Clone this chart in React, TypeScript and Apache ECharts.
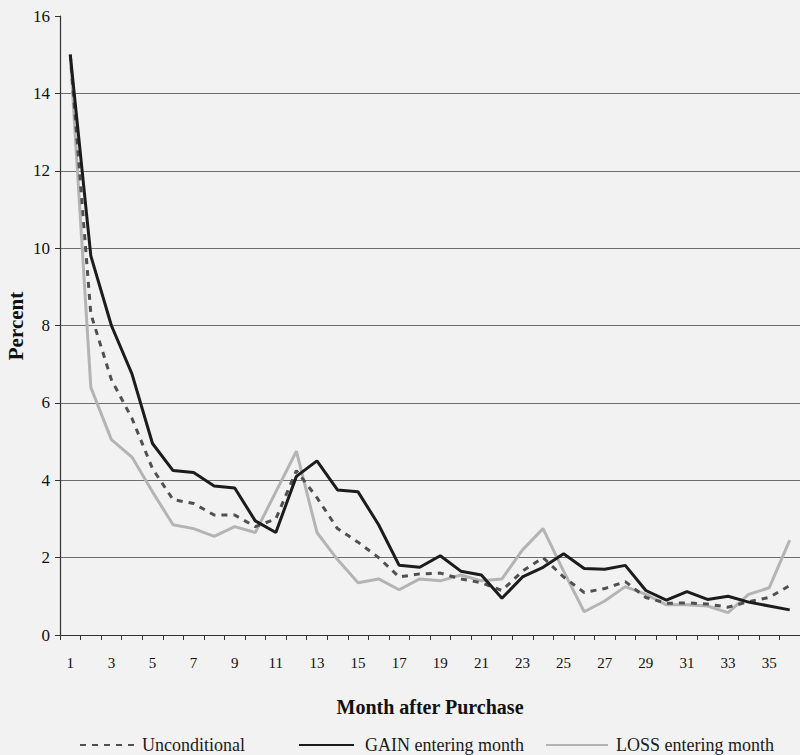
import React, { useEffect, useRef } from "react";
import * as echarts from "echarts";

const months = ["1","2","3","4","5","6","7","8","9","10","11","12","13","14","15","16","17","18","19","20","21","22","23","24","25","26","27","28","29","30","31","32","33","34","35","36"];

const unconditional = [15, 8.3, 6.6, 5.6, 4.3, 3.5, 3.4, 3.1, 3.1, 2.8, 3.0, 4.25, 3.55, 2.75, 2.4, 2.0, 1.5, 1.58, 1.6, 1.45, 1.35, 1.15, 1.65, 2.0, 1.5, 1.1, 1.2, 1.38, 0.97, 0.82, 0.83, 0.8, 0.72, 0.86, 0.97, 1.28];
const gain = [15, 9.8, 8.0, 6.75, 4.95, 4.25, 4.2, 3.85, 3.8, 2.95, 2.65, 4.1, 4.5, 3.75, 3.7, 2.85, 1.8, 1.75, 2.05, 1.65, 1.55, 0.95, 1.5, 1.75, 2.1, 1.72, 1.7, 1.8, 1.15, 0.9, 1.12, 0.92, 1.0, 0.85, 0.75, 0.65];
const loss = [15, 6.4, 5.05, 4.6, 3.7, 2.85, 2.75, 2.55, 2.8, 2.65, 3.7, 4.75, 2.65, 1.95, 1.35, 1.45, 1.17, 1.45, 1.4, 1.55, 1.4, 1.45, 2.2, 2.75, 1.65, 0.6, 0.88, 1.25, 1.05, 0.78, 0.78, 0.75, 0.58, 1.05, 1.22, 2.45];

const yTicks = { min: 0, max: 16, interval: 2 };

const FONT = "'Liberation Serif', 'DejaVu Serif', serif";

export default function App() {
  const ref = useRef<HTMLDivElement>(null);
  useEffect(() => {
    if (!ref.current) return;
    const chart = echarts.init(ref.current, undefined, { renderer: "svg" });
    const legendText = (pad: number) => ({
      fontFamily: FONT,
      fontSize: 18,
      color: "#1a1a1a",
      padding: [0, 0, 0, pad],
    });
    const legendBase = {
      top: 731,
      itemHeight: 14,
      itemStyle: { opacity: 0 },
    };
    chart.setOption({
      animation: false,
      backgroundColor: "#f2f2f2",
      textStyle: { fontFamily: FONT },
      grid: { left: 60, top: 16, bottom: 120, width: 744 },
      xAxis: {
        type: "category",
        data: months,
        boundaryGap: true,
        name: "Month after Purchase",
        nameLocation: "middle",
        nameGap: 62,
        nameTextStyle: { fontFamily: FONT, fontSize: 20, fontWeight: "bold", color: "#111" },
        axisLine: { lineStyle: { color: "#333", width: 1.2 } },
        axisTick: { show: true, interval: 0, length: 5, lineStyle: { color: "#333" } },
        axisLabel: { interval: 1, margin: 20, fontFamily: FONT, fontSize: 15, color: "#111" },
        splitLine: { show: false },
      },
      yAxis: {
        type: "value",
        min: yTicks.min,
        max: yTicks.max,
        interval: yTicks.interval,
        axisLine: { show: true, lineStyle: { color: "#333", width: 1.2 } },
        axisTick: { show: true, length: 5, lineStyle: { color: "#333" } },
        axisLabel: { margin: 10, fontFamily: FONT, fontSize: 17, color: "#111" },
        splitLine: { show: true, showMinLine: false, showMaxLine: false, lineStyle: { color: "#6e6e6e", width: 1 } },
      },
      legend: [
        { ...legendBase, data: ["Unconditional"], left: 74, itemWidth: 56, textStyle: legendText(1) },
        { ...legendBase, data: ["GAIN entering month"], left: 293, itemWidth: 55, textStyle: legendText(6) },
        { ...legendBase, data: ["LOSS entering month"], left: 540, itemWidth: 62, textStyle: legendText(3) },
      ],
      graphic: [
        {
          type: "text",
          x: 16,
          y: 326,
          rotation: Math.PI / 2,
          style: {
            text: "Percent",
            fontFamily: FONT,
            fontSize: 21,
            fontWeight: "bold",
            fill: "#111",
            textAlign: "center",
            textVerticalAlign: "middle",
          },
        },
      ],
      series: [
        {
          name: "LOSS entering month",
          type: "line",
          data: loss,
          symbol: "none",
          lineStyle: { color: "#b4b4b4", width: 3 },
          itemStyle: { color: "#b4b4b4" },
          z: 2,
        },
        {
          name: "Unconditional",
          type: "line",
          data: unconditional,
          symbol: "none",
          lineStyle: { color: "#505050", width: 3, type: [6, 6] },
          itemStyle: { color: "#505050" },
          z: 3,
        },
        {
          name: "GAIN entering month",
          type: "line",
          data: gain,
          symbol: "none",
          lineStyle: { color: "#1c1c1c", width: 3 },
          itemStyle: { color: "#1c1c1c" },
          z: 4,
        },
      ],
    });
    return () => chart.dispose();
  }, []);
  return (
    <div
      ref={ref}
      style={{ position: "absolute", left: 0, top: 0, width: 800, height: 755 }}
    />
  );
}
